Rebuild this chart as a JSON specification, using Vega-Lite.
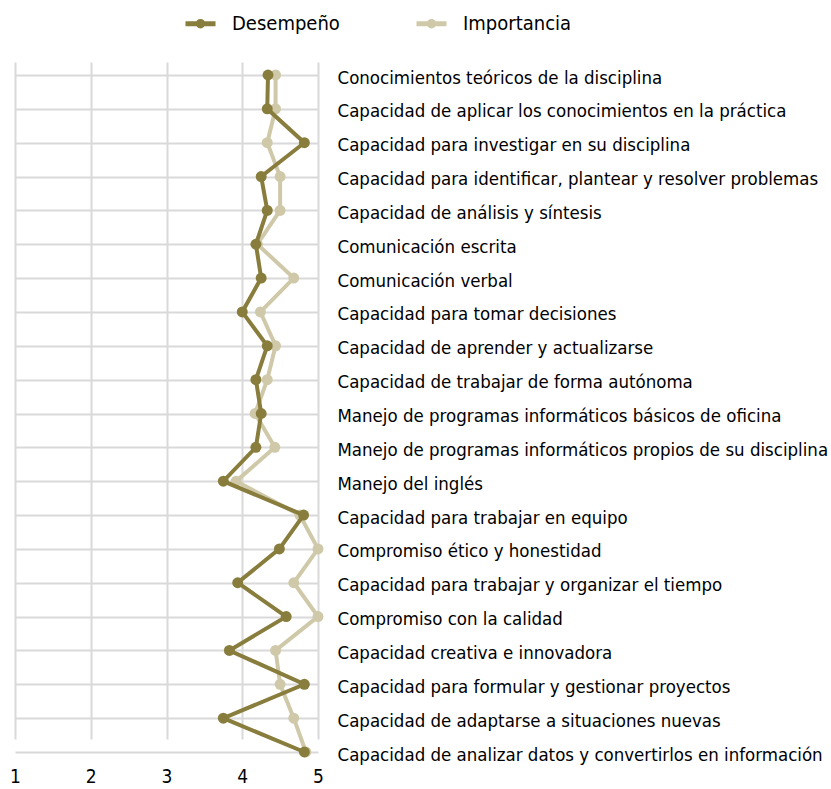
{
  "$schema": "https://vega.github.io/schema/vega-lite/v6.json",
  "autosize": {"type": "none"},
  "padding": {"left": 15, "top": 62, "right": 513, "bottom": 37},
  "width": 303,
  "height": 690,
  "background": "white",
  "config": {
    "font": "DejaVu Sans Condensed, serif",
    "view": {"stroke": null},
    "axis": {"gridColor": "#d9d9d9", "gridWidth": 2, "domain": false, "ticks": false, "labelColor": "#000000", "title": null}
  },
  "data": {"values": [
    {"c": "Conocimientos teóricos de la disciplina", "i": 1, "Desempeño": 4.34, "Importancia": 4.44},
    {"c": "Capacidad de aplicar los conocimientos en la práctica", "i": 2, "Desempeño": 4.33, "Importancia": 4.44},
    {"c": "Capacidad para investigar en su disciplina", "i": 3, "Desempeño": 4.82, "Importancia": 4.33},
    {"c": "Capacidad para identificar, plantear y resolver problemas", "i": 4, "Desempeño": 4.25, "Importancia": 4.5},
    {"c": "Capacidad de análisis y síntesis", "i": 5, "Desempeño": 4.33, "Importancia": 4.5},
    {"c": "Comunicación escrita", "i": 6, "Desempeño": 4.18, "Importancia": 4.2},
    {"c": "Comunicación verbal", "i": 7, "Desempeño": 4.25, "Importancia": 4.68},
    {"c": "Capacidad para tomar decisiones", "i": 8, "Desempeño": 4.0, "Importancia": 4.24},
    {"c": "Capacidad de aprender y actualizarse", "i": 9, "Desempeño": 4.33, "Importancia": 4.44},
    {"c": "Capacidad de trabajar de forma autónoma", "i": 10, "Desempeño": 4.18, "Importancia": 4.33},
    {"c": "Manejo de programas informáticos básicos de oficina", "i": 11, "Desempeño": 4.25, "Importancia": 4.17},
    {"c": "Manejo de programas informáticos propios de su disciplina", "i": 12, "Desempeño": 4.18, "Importancia": 4.43},
    {"c": "Manejo del inglés", "i": 13, "Desempeño": 3.75, "Importancia": 3.92},
    {"c": "Capacidad para trabajar en equipo", "i": 14, "Desempeño": 4.81, "Importancia": 4.76},
    {"c": "Compromiso ético y honestidad", "i": 15, "Desempeño": 4.49, "Importancia": 5.0},
    {"c": "Capacidad para trabajar y organizar el tiempo", "i": 16, "Desempeño": 3.94, "Importancia": 4.68},
    {"c": "Compromiso con la calidad", "i": 17, "Desempeño": 4.58, "Importancia": 5.0},
    {"c": "Capacidad creativa e innovadora", "i": 18, "Desempeño": 3.83, "Importancia": 4.44},
    {"c": "Capacidad para formular y gestionar proyectos", "i": 19, "Desempeño": 4.82, "Importancia": 4.5},
    {"c": "Capacidad de adaptarse a situaciones nuevas", "i": 20, "Desempeño": 3.75, "Importancia": 4.68},
    {"c": "Capacidad de analizar datos y convertirlos en información", "i": 21, "Desempeño": 4.82, "Importancia": 4.84}
  ]},
  "transform": [{"fold": ["Desempeño", "Importancia"], "as": ["serie", "valor"]}],
  "encoding": {
    "x": {"field": "valor", "type": "quantitative",
          "scale": {"domain": [1, 5], "nice": false, "zero": false},
          "axis": {"values": [1, 2, 3, 4, 5], "labelFontSize": 19, "labelPadding": 15, "grid": true, "labelFlush": false}},
    "y": {"field": "c", "type": "nominal", "sort": {"field": "i", "op": "min"},
          "scale": {"type": "point", "range": [13, 690], "padding": 0},
          "axis": {"orient": "right", "labelFontSize": 18.5, "labelPadding": 19, "grid": true, "labelLimit": 600, "labelOffset": 2}},
    "order": {"field": "i"},
    "color": {"field": "serie", "type": "nominal",
              "scale": {"domain": ["Desempeño", "Importancia"], "range": ["#887d3c", "#cfc9aa"]},
              "legend": {"title": null, "orient": "none", "direction": "horizontal", "legendX": 168, "legendY": -56,
                         "labelFontSize": 20, "labelColor": "#000000", "labelOffset": 14, "columnPadding": 66,
                         "symbolType": "M-1,0L1,0M-0.15,0a0.15,0.15 0 1,0 0.3,0a0.15,0.15 0 1,0 -0.3,0",
                         "symbolSize": 900, "symbolStrokeWidth": 5}}
  },
  "layer": [
    {"transform": [{"filter": "datum.serie === 'Importancia'"}],
     "mark": {"type": "line", "strokeWidth": 4, "point": {"size": 120, "filled": true}}},
    {"transform": [{"filter": "datum.serie === 'Desempeño'"}],
     "mark": {"type": "line", "strokeWidth": 4, "point": {"size": 120, "filled": true}}}
  ]
}
